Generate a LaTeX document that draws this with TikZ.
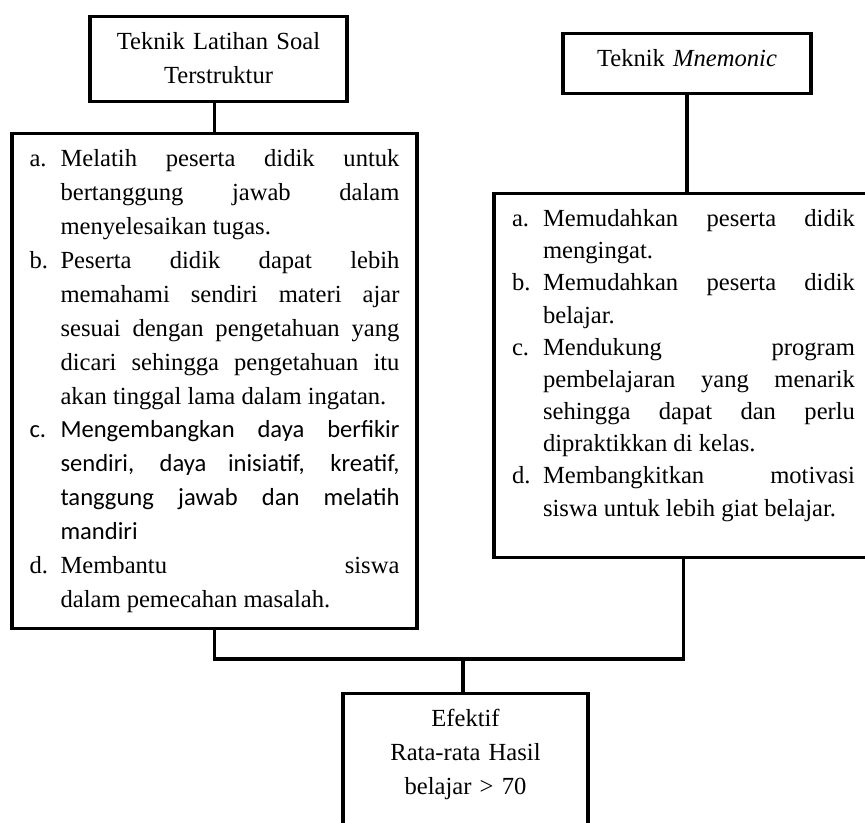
\documentclass[tikz,border=0pt]{standalone}
\usepackage{fontspec}
\setmainfont{Liberation Serif}
\newfontfamily\calibri{Carlito}
\newcommand{\butir}[2]{\noindent\hangindent=0.62cm\hangafter=1\makebox[0.62cm][l]{#1}#2\par}
\begin{document}
\begin{tikzpicture}[x=0.02cm,y=-0.02cm,line width=1.9pt,
	kotak/.style={draw,anchor=north,inner xsep=0.3cm,inner ysep=0.3cm,text height=0.36cm,
		font={\fontsize{14pt}{19.3pt}\selectfont\tolerance=10000 \hbadness=10000 \hyphenpenalty=10000 }},
	daftar/.style={kotak,align=justify,inner xsep=0.35cm}]
	\useasboundingbox (0,0) rectangle (865,822);
	\clip (0,0) rectangle (865,822);
	
	\node[kotak,align=center,text width=4.54cm,text depth=0.74cm] (tL) at (218.5,15) {Teknik Latihan Soal\\Terstruktur};
	\node[kotak,align=center,text width=4.36cm,text depth=0.24cm] (tR) at (687,32) {Teknik \textit{Mnemonic}};
	
	\node[daftar,text width=7.4cm,text depth=8.94cm] (dL) at (214.5,132) {%
		\butir{a.}{Melatih peserta didik untuk\linebreak bertanggung jawab dalam\linebreak menyelesaikan tugas.}
		\butir{b.}{Peserta didik dapat lebih\linebreak memahami sendiri materi ajar\linebreak sesuai dengan pengetahuan yang\linebreak dicari sehingga pengetahuan itu\linebreak akan tinggal lama dalam ingatan.}
		{\calibri\butir{c.}{Mengembangkan daya berfikir\linebreak sendiri, daya inisiatif, kreatif,\linebreak tanggung jawab dan melatih\linebreak mandiri}}
		\butir{d.}{Membantu siswa\linebreak dalam pemecahan masalah.}};
	
	\node[daftar,text width=6.86cm,inner xsep=0.36cm,text depth=6.32cm,
		font={\fontsize{14pt}{18.3pt}\selectfont\tolerance=10000 \hbadness=10000 \hyphenpenalty=10000 }] (dR) at (683.5,192) {%
		\butir{a.}{Memudahkan peserta didik\linebreak mengingat.}
		\butir{b.}{Memudahkan peserta didik\linebreak belajar.}
		\butir{c.}{Mendukung program\linebreak pembelajaran yang menarik\linebreak sehingga dapat dan perlu\linebreak dipraktikkan di kelas.}
		\butir{d.}{Membangkitkan motivasi\linebreak siswa untuk lebih giat belajar.}};
	
	\coordinate (gabung) at (463,659);
	\node[kotak,align=center,text width=4.3cm,text depth=2.2cm] (hasil) at (465.5,692) {Efektif\\Rata-rata Hasil\\belajar > 70};
	
	\draw (dL.north) -- (dL.north |- tL.south);
	\draw (tR.south) -- (tR.south |- dR.north);
	\draw (dL.south) |- (gabung) -| (dR.south);
	\draw (gabung) -- (gabung |- hasil.north);
\end{tikzpicture}
\end{document}
